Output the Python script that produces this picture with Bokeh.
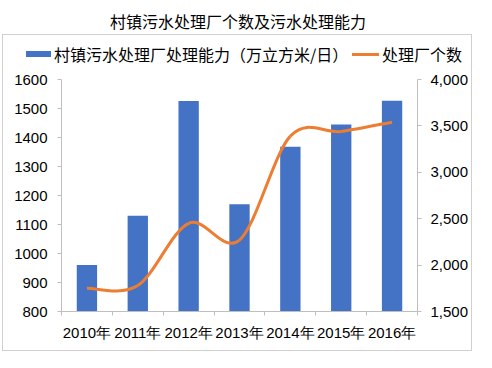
from bokeh.plotting import figure
from bokeh.layouts import column
from bokeh.models import (Range1d, LinearAxis, FixedTicker, NumeralTickFormatter, Div)
from bokeh.embed import file_html
from bokeh.resources import INLINE

title_text = "村镇污水处理厂个数及污水处理能力"
bar_label = "村镇污水处理厂处理能力（万立方米/日）"
line_label = "处理厂个数"
years = ["2010年", "2011年", "2012年", "2013年", "2014年", "2015年", "2016年"]
capacity = [960, 1130, 1526, 1170, 1368, 1445, 1527]
plants = [1750, 1780, 2450, 2270, 3390, 3440, 3540]
left_ticks = [800, 900, 1000, 1100, 1200, 1300, 1400, 1500, 1600]
right_ticks = [1500, 2000, 2500, 3000, 3500, 4000]

BLUE = "#4472c4"
ORANGE = "#ed7d31"
GRID = "#bfbfbf"
CJK = "Noto Sans CJK SC"
LAT = "Liberation Sans"

n = len(years)
xs = list(range(n))

# ---- main chart
p = figure(width=460, height=281, x_range=Range1d(-0.5, n - 0.5),
           y_range=Range1d(left_ticks[0], left_ticks[-1]),
           output_backend="svg", toolbar_location=None,
           min_border_left=47, min_border_right=51, min_border_top=10,
           min_border_bottom=39, y_axis_location=None, x_axis_location=None,
           margin=(0, 0, 0, 8))
p.extra_y_ranges = {"n": Range1d(right_ticks[0], right_ticks[-1])}
p.grid.visible = False
p.outline_line_color = None

bars = p.vbar(x=xs, top=capacity, width=0.4, fill_color=BLUE, line_color=None)

# smooth (Bezier) curve through the data points; control points from neighbours
x0, y0, x1, y1, cx0, cy0, cx1, cy1 = [], [], [], [], [], [], [], []
for i in range(n - 1):
    ip = i - 1 if i > 0 else i
    inx = i + 2 if i + 2 < n else i + 1
    x0.append(xs[i]); y0.append(plants[i])
    x1.append(xs[i + 1]); y1.append(plants[i + 1])
    cx0.append(xs[i] + (xs[i + 1] - xs[ip]) / 6)
    cy0.append(plants[i] + (plants[i + 1] - plants[ip]) / 6)
    cx1.append(xs[i + 1] - (xs[inx] - xs[i]) / 6)
    cy1.append(plants[i + 1] - (plants[inx] - plants[i]) / 6)
p.bezier(x0=x0, y0=y0, x1=x1, y1=y1, cx0=cx0, cy0=cy0, cx1=cx1, cy1=cy1,
         y_range_name="n", line_color=ORANGE, line_width=3)

xaxis = LinearAxis(ticker=FixedTicker(ticks=xs, minor_ticks=[k - 0.5 for k in range(n + 1)]))
xaxis.major_label_overrides = {i: years[i] for i in xs}
xaxis.major_tick_line_color = None
xaxis.minor_tick_line_color = GRID
xaxis.minor_tick_in = 0
xaxis.minor_tick_out = 4
xaxis.major_label_standoff = 6
p.add_layout(xaxis, "below")

yl = LinearAxis(ticker=FixedTicker(ticks=left_ticks))
yl.major_tick_in = 0
yl.major_tick_out = 4
yl.major_label_standoff = 10
p.add_layout(yl, "left")

yr = LinearAxis(y_range_name="n", ticker=FixedTicker(ticks=right_ticks),
                formatter=NumeralTickFormatter(format="0,0"))
yr.major_tick_in = 0
yr.major_tick_out = 4
yr.major_label_standoff = 9
p.add_layout(yr, "right")

for ax in (xaxis, yl, yr):
    ax.axis_line_color = GRID
    ax.major_label_text_font = LAT
    ax.major_label_text_font_size = "15px"
    ax.major_label_text_color = "#000000"
for ax in (yl, yr):
    ax.major_tick_line_color = GRID
    ax.minor_tick_line_color = None

# ---- legend strip (HTML)
legend_html = (
    f'<div style="position:relative;width:468px;height:34px;font-family:\'{CJK}\';'
    f'font-size:16px;color:#000000;">'
    f'<span style="position:absolute;left:23px;top:16px;width:25px;height:6px;'
    f'background:{BLUE};"></span>'
    f'<span style="position:absolute;left:51px;top:8px;line-height:22px;'
    f'white-space:nowrap;">{bar_label}</span>'
    f'<span style="position:absolute;left:349px;top:18px;width:27px;height:3px;'
    f'background:{ORANGE};"></span>'
    f'<span style="position:absolute;left:379px;top:8px;line-height:22px;'
    f'white-space:nowrap;">{line_label}</span>'
    f'</div>'
)
lg = Div(text=legend_html, width=468, height=34, margin=(0, 0, 0, 0))

title = Div(text=title_text, width=476, height=34, margin=(0, 0, 0, 0),
            styles={"font-family": CJK, "font-size": "16px", "color": "#000000",
                    "text-align": "center", "line-height": "42px", "width": "476px"})

box = column(lg, p, styles={"border": "1px solid #d0d0d0"}, margin=(0, 0, 0, 2), spacing=0)
layout = column(title, box, spacing=0)

open("out.html", "w").write(file_html(layout, INLINE))
